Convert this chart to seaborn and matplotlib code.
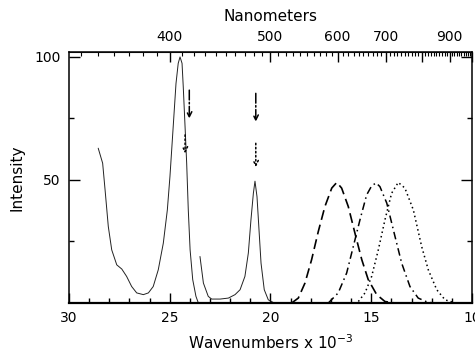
import numpy as np
import matplotlib
matplotlib.use("Agg")
import matplotlib.pyplot as plt
import seaborn as sns

# wavenumbers (x 10^-3 cm^-1) and intensities
solid_a_wn = [28.55, 28.33, 28.21, 28.05, 27.88, 27.63, 27.38, 27.14, 26.89, 26.64,
              26.31, 26.06, 25.82, 25.57, 25.32, 25.12, 24.99, 24.85, 24.69, 24.58,
              24.49, 24.39, 24.33, 24.24, 24.16, 24.08, 23.99, 23.86, 23.70, 23.58]
solid_a_int = [62.9, 56.8, 46.0, 31.1, 21.6, 15.5, 13.8, 10.8, 6.7, 4.1,
               3.4, 4.1, 6.7, 13.5, 24.3, 37.8, 51.4, 69.0, 89.2, 97.4,
               100.0, 97.4, 87.9, 71.6, 56.8, 37.8, 21.6, 9.5, 2.7, 0.0]

solid_b_wn = [23.50, 23.33, 23.09, 22.92, 22.50, 22.09, 21.76, 21.51, 21.27, 21.10,
              20.97, 20.85, 20.77, 20.67, 20.57, 20.47, 20.31, 20.11, 19.86, 19.40]
solid_b_int = [18.9, 8.1, 2.7, 1.6, 1.6, 2.0, 3.4, 5.4, 10.8, 20.3,
               33.8, 44.6, 49.5, 43.2, 29.7, 16.2, 5.4, 1.3, 0.2, 0.0]

dashed_wn = [18.95, 18.62, 18.29, 17.96, 17.63, 17.30, 16.96, 16.71, 16.47, 16.14,
             15.81, 15.47, 15.15, 14.73, 14.32, 13.82]
dashed_int = [0.0, 2.0, 8.1, 17.6, 29.0, 39.2, 46.7, 49.0, 46.7, 39.2,
              28.4, 17.6, 9.5, 3.4, 0.6, 0.0]

dashdot_wn = [17.13, 16.64, 16.22, 15.89, 15.56, 15.23, 14.98, 14.76, 14.57, 14.23,
              13.82, 13.49, 13.08, 12.67, 12.17, 11.67]
dashdot_int = [0.0, 4.1, 12.2, 23.0, 33.8, 43.9, 47.6, 48.8, 47.3, 40.6,
               27.0, 16.2, 6.7, 2.0, 0.2, 0.0]

dotted_wn = [15.64, 15.31, 14.98, 14.65, 14.32, 13.99, 13.66, 13.33, 12.91, 12.50,
             12.17, 11.75, 11.34, 10.84]
dotted_int = [0.6, 4.1, 10.8, 21.6, 33.8, 44.6, 49.0, 46.7, 37.8, 23.0,
              13.5, 5.4, 1.3, 0.0]

# arrows: position, start and end intensity
arrow_wn = [24.03, 24.24, 20.73, 20.73]
arrow_top = [86.5, 68.3, 85.2, 64.9]
arrow_end = [75.0, 60.8, 73.7, 55.2]
arrow_ls = ["-.", ":", "-.", ":"]

nm_ticks = [400, 500, 600, 700, 800, 900, 1000]
nm_labels = ["400", "500", "600", "700", "", "900", ""]

sns.set_style("ticks")
plt.rcParams["font.family"] = ["DejaVu Sans"]
plt.rcParams["text.color"] = "black"
plt.rcParams["axes.labelcolor"] = "black"
plt.rcParams["xtick.color"] = "black"
plt.rcParams["ytick.color"] = "black"

fig = plt.figure(figsize=(4.75, 3.51), dpi=100)
ax = fig.add_axes([69 / 475, 48 / 351, 403 / 475, 251 / 351])

sns.lineplot(x=solid_a_wn, y=solid_a_int, ax=ax, color="#222222", lw=0.7, sort=False, estimator=None)
sns.lineplot(x=solid_b_wn, y=solid_b_int, ax=ax, color="#222222", lw=0.7, sort=False, estimator=None)
sns.lineplot(x=dashed_wn, y=dashed_int, ax=ax, color="black", lw=1.2, sort=False, estimator=None,
             dashes=False, linestyle=(0, (6, 3)))
sns.lineplot(x=dashdot_wn, y=dashdot_int, ax=ax, color="black", lw=1.1, sort=False, estimator=None,
             dashes=False, linestyle=(0, (5, 2.5, 1, 2.5)))
sns.lineplot(x=dotted_wn, y=dotted_int, ax=ax, color="black", lw=1.1, sort=False, estimator=None,
             dashes=False, linestyle=(0, (1, 2)))

for w, y0, y1, ls in zip(arrow_wn, arrow_top, arrow_end, arrow_ls):
    ax.annotate("", xy=(w, y1), xytext=(w, y0),
                arrowprops=dict(arrowstyle="->", lw=1.1, linestyle=ls, color="black",
                                shrinkA=0, shrinkB=0, mutation_scale=9))

ax.set_xlim(30, 10)
ax.set_ylim(0, 102)
ax.set_xticks([30, 25, 20, 15, 10])
ax.set_xticks(np.arange(11, 30), minor=True)
ax.set_yticks([50, 100])
ax.set_yticks([25, 75], minor=True)
for s in ax.spines.values():
    s.set_visible(True)
    s.set_linewidth(1.1)
    s.set_color("black")
ax.spines["bottom"].set_linewidth(1.6)

ax.tick_params(axis="both", which="both", direction="in", color="black", labelcolor="black", labelsize=10)
ax.tick_params(axis="x", which="major", length=7, width=1, pad=6)
ax.tick_params(axis="x", which="minor", length=3.5, width=1)
ax.tick_params(axis="y", which="major", length=8, width=1, pad=6, right=True)
ax.tick_params(axis="y", which="minor", length=3.5, width=1, right=True)

ax.set_xlabel("Wavenumbers x 10$^{-3}$", fontsize=11, labelpad=6, color="black")
ax.set_ylabel("Intensity", fontsize=11, labelpad=7, color="black")


def wn_to_nm(w):
    w = np.asarray(w, dtype=float)
    with np.errstate(divide="ignore"):
        return 1e4 / w


top = ax.secondary_xaxis("top", functions=(wn_to_nm, wn_to_nm))
top.set_xticks(nm_ticks)
top.set_xticklabels(nm_labels)
top.set_xticks(np.arange(340, 1001, 10), minor=True)
top.tick_params(axis="x", which="both", direction="in", color="black", labelcolor="black", labelsize=10)
top.tick_params(axis="x", which="major", length=7, width=1, pad=6)
top.tick_params(axis="x", which="minor", length=3, width=0.8)
top.set_xlabel("Nanometers", fontsize=11, labelpad=6, color="black")

fig.savefig("out.png", dpi=100)
